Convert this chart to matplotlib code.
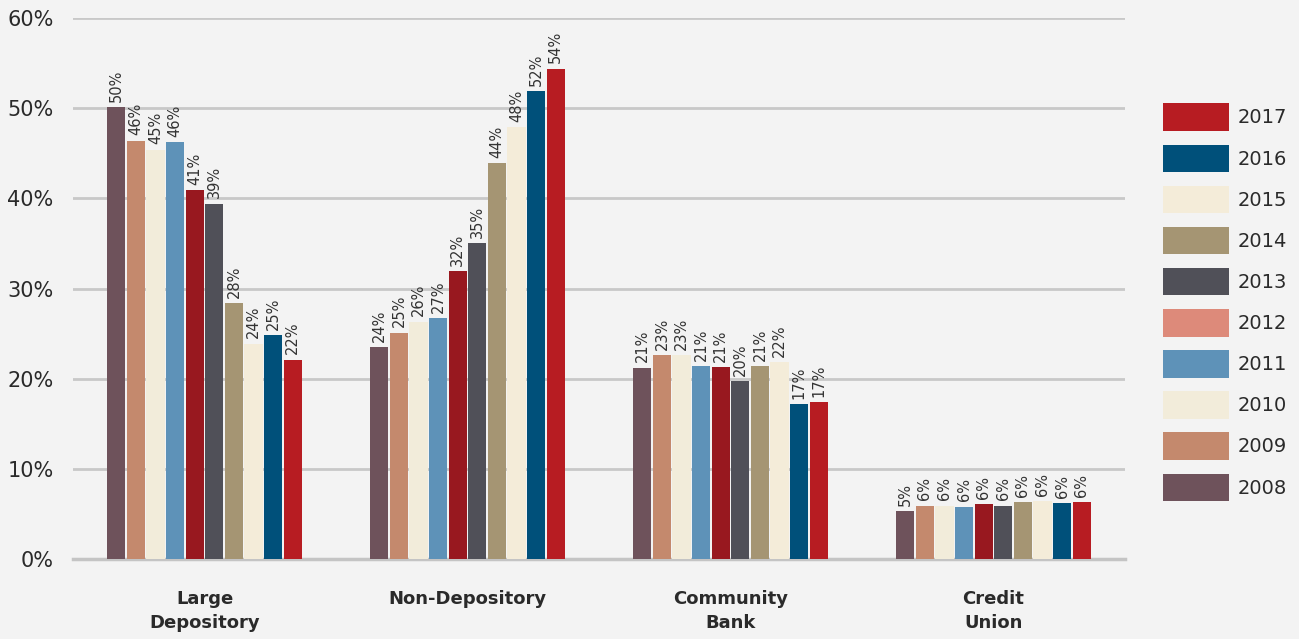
import numpy as np
import matplotlib.pyplot as plt
from matplotlib.patches import Patch

plt.rcParams['font.family'] = ['DejaVu Sans']

categories = ['Large\nDepository', 'Non-Depository', 'Community\nBank', 'Credit\nUnion']
years = ['2008', '2009', '2010', '2011', '2012', '2013', '2014', '2015', '2016', '2017']

# share by year, one list per category (percent)
large_dep = [50.1, 46.4, 45.4, 46.2, 40.9, 39.4, 28.4, 23.9, 24.8, 22.1]
non_dep = [23.5, 25.1, 26.3, 26.7, 31.9, 35.0, 43.9, 47.9, 51.9, 54.4]
community = [21.2, 22.6, 22.6, 21.4, 21.3, 19.7, 21.4, 21.8, 17.2, 17.4]
credit_union = [5.3, 5.9, 5.9, 5.8, 6.1, 5.9, 6.3, 6.4, 6.2, 6.3]

bar_colors = ['#6E525B', '#C4896D', '#F2ECDA', '#5E92B8', '#98181F',
              '#505058', '#A59573', '#F4ECD9', '#00507A', '#B71C22']
legend_colors = ['#6E525B', '#C4896D', '#F2ECDA', '#5E92B8', '#DD8A7A',
                 '#505058', '#A59573', '#F4ECD9', '#00507A', '#B71C22']

data = np.array([large_dep, non_dep, community, credit_union])

fig = plt.figure(figsize=(12.99, 6.39), dpi=100, facecolor='#F3F3F3')
ax = fig.add_axes([0.0562, 0.1252, 0.8099, 0.8466])
ax.set_facecolor('#F3F3F3')

centers = np.arange(len(categories)) + 0.5
pitch = 0.0745
width = 0.069
for i, yr in enumerate(years):
    xs = centers + (i - 4.5) * pitch
    vals = data[:, i]
    ax.bar(xs, vals, width=width, color=bar_colors[i], zorder=3)
    for x, v in zip(xs, vals):
        ax.text(x, v + 0.6, f'{round(v)}%', rotation=90, ha='center', va='bottom',
                fontsize=10.5, color='#333333', zorder=4)

ax.set_xlim(0, 4)
ax.set_ylim(0, 60)
ax.set_yticks(np.arange(0, 61, 10))
ax.set_yticklabels([f'{t}%' for t in range(0, 61, 10)], fontsize=15, color='#2a2a2a')
ax.set_xticks(centers)
ax.set_xticklabels(categories, fontsize=13, fontweight='bold', color='#2a2a2a',
                   linespacing=1.45)
ax.tick_params(axis='both', length=0)
ax.tick_params(axis='y', pad=14)
ax.tick_params(axis='x', pad=22)
ax.yaxis.grid(True, color='#C8C8C8', linewidth=2, zorder=0)
for s in ['top', 'right', 'left']:
    ax.spines[s].set_visible(False)
ax.spines['bottom'].set_color('#C4C4C4')
ax.spines['bottom'].set_linewidth(2.5)

handles = [Patch(facecolor=legend_colors[i], label=years[i]) for i in range(len(years))][::-1]
fig.legend(handles=handles, loc='center left', bbox_to_anchor=(0.882, 0.527),
           frameon=False, fontsize=14, handlelength=3.4, handleheight=1.8,
           labelspacing=0.7, handletextpad=0.45, labelcolor='#2a2a2a')

fig.savefig('out.png', dpi=100, facecolor=fig.get_facecolor())
